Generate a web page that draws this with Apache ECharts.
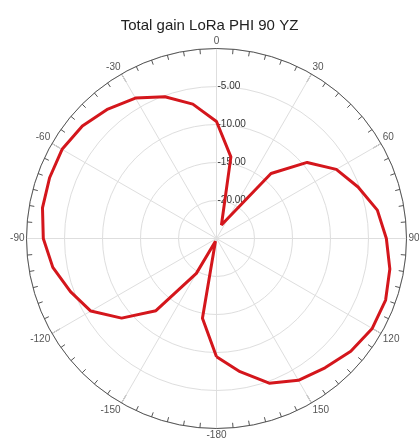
<!DOCTYPE html>
<html>
<head>
<meta charset="utf-8">
<script src="https://cdn.jsdelivr.net/npm/echarts@6/dist/echarts.min.js"></script>
<style>
html,body{margin:0;padding:0;background:#fff;}
#chart{width:419px;height:444px;}
</style>
</head>
<body>
<div id="chart"></div>
<script>
// Angles in degrees (-180..180, clockwise from top) and total gain in dB
const angles = [-180,-170,-160,-150,-140,-130,-120,-110,-100,-90,-80,-70,-60,-50,-40,-30,-20,-10,0,10,20,40,50,60,70,80,90,100,110,120,130,140,150,160,170,180];
const gainDb = [-9.45,-14.35,-24.6,-19.7,-12.6,-8.7,-5.9,-4.55,-3.13,-2.21,-1.75,-1.63,-1.54,-1.96,-2.76,-3.66,-5.15,-7.05,-9.6,-14.1,-23.1,-13.84,-9.43,-6.8,-5.18,-3.51,-2.65,-1.84,-1.32,-1.34,-1.93,-2.79,-3.45,-4.74,-7.2,-9.45];
const radialTicks = [-25,-20,-15,-10,-5,0];
const angleTickStep = 30;
const titleText = 'Total gain LoRa PHI 90 YZ';

const data = angles.map((a, i) => [gainDb[i], a < 0 ? a + 360 : a]);

const chart = echarts.init(document.getElementById('chart'), null, {renderer: 'canvas'});
chart.setOption({
  animation: false,
  backgroundColor: '#fff',
  title: {
    text: titleText,
    left: 'center',
    top: 13,
    textStyle: {fontFamily: 'Liberation Sans, Arial, sans-serif', fontSize: 15, fontWeight: 'normal', color: '#222'}
  },
  polar: {center: [216.5, 238.5], radius: 190},
  angleAxis: {
    type: 'value',
    min: 0,
    max: 360,
    interval: angleTickStep,
    startAngle: 90,
    clockwise: true,
    axisLine: {lineStyle: {color: '#555', width: 1}},
    axisTick: {show: true, inside: true, length: 9, lineStyle: {color: '#555'}},
    minorTick: {show: true, splitNumber: 6, length: 5, lineStyle: {color: '#555'}},
    axisLabel: {
      color: '#555', fontSize: 10, fontFamily: 'Liberation Sans, Arial, sans-serif', margin: 2,
      formatter: v => (v >= 360 ? '' : String(v >= 180 ? v - 360 : v))
    },
    splitLine: {show: true, lineStyle: {color: '#dedede', width: 1}}
  },
  radiusAxis: {
    type: 'value',
    min: radialTicks[0],
    max: radialTicks[radialTicks.length - 1],
    interval: 5,
    axisLine: {show: false},
    axisTick: {show: false},
    axisLabel: {
      color: '#333', fontSize: 10, fontFamily: 'Liberation Sans, Arial, sans-serif',
      align: 'left', margin: -1,
      formatter: v => (v > -25 && v < 0 ? v.toFixed(2) : '')
    },
    splitLine: {show: true, lineStyle: {color: '#dedede', width: 1}}
  },
  series: [{
    type: 'line',
    coordinateSystem: 'polar',
    data: data,
    showSymbol: false,
    smooth: false,
    lineStyle: {color: '#d4161c', width: 3},
    itemStyle: {color: '#d4161c'}
  }]
});
</script>
</body>
</html>
